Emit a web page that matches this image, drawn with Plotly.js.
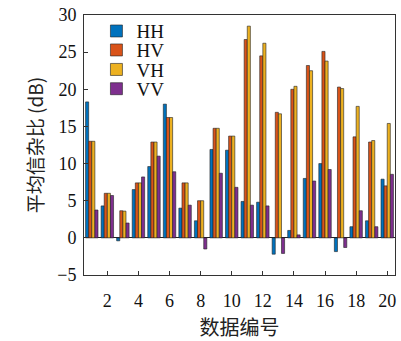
<!DOCTYPE html>
<html>
<head>
<meta charset="utf-8">
<script src="https://cdn.plot.ly/plotly-3.0.1.min.js"></script>
<style>html,body{margin:0;padding:0;background:#fff;}#chart{width:401px;height:341px;}</style>
</head>
<body>
<div id="chart"></div>
<script>
const categories = [1,2,3,4,5,6,7,8,9,10,11,12,13,14,15,16,17,18,19,20];
const seriesNames = ["HH","HV","VH","VV"];
const HH = [18.3,4.3,-0.4,6.5,9.6,18.0,4.0,2.3,11.9,11.8,4.9,4.8,-2.2,1.0,8.0,10.0,-1.85,1.5,2.3,7.9];
const HV = [13.0,6.0,3.65,7.4,12.9,16.2,7.4,5.0,14.75,13.7,26.7,24.5,16.9,20.0,23.2,25.1,20.3,13.6,12.9,7.0];
const VH = [13.0,6.0,3.6,7.4,12.9,16.2,7.4,5.0,14.75,13.7,28.5,26.2,16.7,20.4,22.5,23.8,20.1,17.7,13.1,15.4];
const VV = [3.75,5.7,2.0,8.2,11.0,8.9,4.4,-1.5,8.7,6.8,4.4,4.3,-2.1,0.4,7.65,9.2,-1.3,3.65,1.5,8.55];
const xTicks = [2,4,6,8,10,12,14,16,18,20];
const yTicks = [-5,0,5,10,15,20,25,30];
const yTickText = ["\u22125","0","5","10","15","20","25","30"];

const colors = ["#0072BD","#D95319","#EDB120","#7E2F8E"];
const legendIds = ["legend","legend2","legend3","legend4"];
const legendY = [0.938, 0.865, 0.790, 0.716];
const data = [HH,HV,VH,VV].map((vals,i)=>({
  type:"bar", x:categories, y:vals, name:seriesNames[i], legend:legendIds[i],
  marker:{color:colors[i], line:{color:"#222", width:0.6}}
}));
const serif = "Liberation Serif, DejaVu Serif, serif";
const cjk = "Noto Sans CJK SC, sans-serif";
const layout = {
  width:401, height:341,
  margin:{l:84, r:6, t:15, b:66},
  paper_bgcolor:"#fff", plot_bgcolor:"#fff",
  barmode:"group", bargap:0.2, bargroupgap:0,
  showlegend:true,
  xaxis:{range:[0.5,20.5], tickvals:xTicks, ticktext:xTicks.map(String),
    ticks:"inside", ticklen:4, tickcolor:"#333", showline:true, linecolor:"#333", linewidth:1, mirror:true,
    showgrid:false, zeroline:false, ticklabelstandoff:9, automargin:false,
    tickfont:{family:serif, size:18, color:"#111"},
    title:{text:"数据编号", font:{family:cjk, size:20, color:"#222"}, standoff:20}},
  yaxis:{range:[-5,30], tickvals:yTicks, ticktext:yTickText,
    ticks:"inside", ticklen:4, tickcolor:"#333", showline:true, linecolor:"#333", linewidth:1, mirror:true,
    showgrid:false, zeroline:true, zerolinecolor:"#222", zerolinewidth:1, ticklabelstandoff:3, automargin:false,
    tickfont:{family:serif, size:18, color:"#111"},
    title:{text:"平均信杂比 (dB)", font:{family:cjk, size:19, color:"#222"}, standoff:8}}
};
legendIds.forEach((id,i)=>{
  layout[id] = {x:0.04, y:legendY[i], xanchor:"left", yanchor:"middle", bgcolor:"rgba(255,255,255,0)",
    font:{family:serif, size:19, color:"#111"}, itemwidth:30};
});
Plotly.newPlot("chart", data, layout, {displayModeBar:false, staticPlot:true});
</script>
</body>
</html>
